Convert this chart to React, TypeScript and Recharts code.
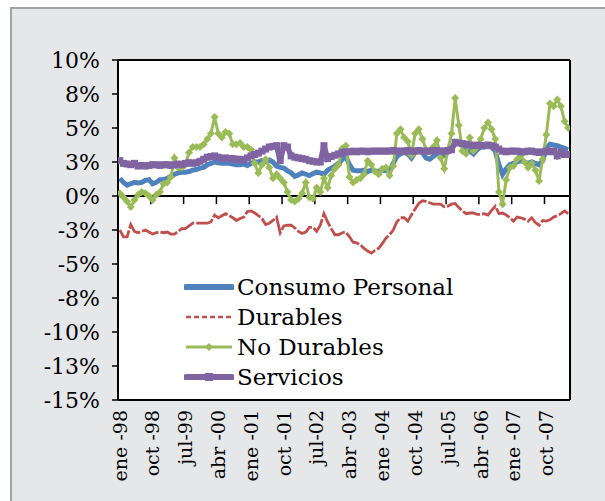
import React from 'react';
import { LineChart, Line, XAxis, YAxis, ReferenceLine, Legend, CartesianGrid } from 'recharts';

const FONT = '"DejaVu Serif", serif';

// monthly, Jan 1998 .. Apr 2008 (124 months)
const MONTHS = ['ene', 'feb', 'mar', 'abr', 'may', 'jun', 'jul', 'ago', 'sep', 'oct', 'nov', 'dic'];
const START_YEAR = 1998;

const X_TICKS = [0, 9, 18, 27, 36, 45, 54, 63, 72, 81, 90, 99, 108, 117];
const X_LABELS = ['ene -98', 'oct -98', 'jul-99', 'abr -00', 'ene -01', 'oct -01', 'jul-02', 'abr -03', 'ene -04', 'oct -04', 'jul-05', 'abr -06', 'ene -07', 'oct -07'];
const Y_TICKS = [-15, -12.5, -10, -7.5, -5, -2.5, 0, 2.5, 5, 7.5, 10];

const CONSUMO = [
  1.3, 1.0, 0.8, 0.9, 1.0, 0.95, 1.0, 1.15, 1.2, 0.9, 1.0, 1.2,
  1.2, 1.3, 1.45, 1.6, 1.7, 1.75, 1.75, 1.8, 1.9, 1.95, 2.05, 2.1,
  2.3, 2.4, 2.5, 2.45, 2.4, 2.4, 2.4, 2.35, 2.3, 2.3, 2.35, 2.25,
  2.4, 2.5, 2.5, 2.6, 2.55, 2.65, 2.5, 2.2, 2.1, 2.05, 1.85, 1.7,
  1.45, 1.55, 1.7, 1.6, 1.5, 1.65, 1.75, 1.7, 1.6, 1.9, 2.05, 2.2,
  2.4, 2.7, 2.9, 2.3, 1.9, 1.85, 1.85, 1.9, 1.8, 1.9, 1.85, 1.8,
  1.9, 1.85, 1.8, 2.4, 2.9, 3.1, 3.2, 3.1, 2.8, 3.2, 3.3, 3.2,
  2.8, 2.7, 2.9, 3.1, 3.2, 3.0, 3.2, 3.5, 4.0, 3.9, 3.8, 3.3,
  3.3, 3.1, 3.4, 3.6, 3.6, 3.7, 3.6, 3.3, 2.3, 1.6, 2.0, 2.3,
  2.4, 2.5, 2.6, 2.5, 2.4, 2.5, 2.4, 2.3, 2.6, 3.5, 3.8, 3.75,
  3.7, 3.6, 3.5, 3.4,
];

const DURABLES = [
  -2.5, -3.0, -3.0, -2.1, -2.6, -2.7, -2.6, -2.5, -2.65, -2.8, -2.7, -2.65,
  -2.7, -2.65, -2.8, -2.8, -2.6, -2.4, -2.4, -2.2, -2.0, -2.0, -2.0, -2.0,
  -2.0, -1.9, -1.4, -1.6, -1.45, -1.3, -1.45, -1.6, -1.8, -1.65, -1.55, -1.15,
  -1.1, -1.25, -1.45, -1.65, -2.1, -2.0, -1.8, -1.55, -2.7, -2.2, -2.15, -2.15,
  -2.35, -2.6, -2.75, -2.65, -2.3, -2.3, -2.6, -2.15, -1.3, -1.9, -2.4, -2.85,
  -2.85, -2.7, -2.65, -3.0, -3.4, -3.45, -3.6, -3.85, -4.05, -4.2, -4.0, -3.85,
  -3.5, -3.1, -2.85, -2.5, -1.9, -1.6, -1.6, -1.85, -1.4, -0.95, -0.55, -0.35,
  -0.4, -0.5, -0.6, -0.6, -0.6, -0.8, -0.75, -0.6, -0.55, -0.85, -1.1, -1.3,
  -1.25, -1.25, -1.35, -1.35, -1.3, -1.4, -1.05, -0.75, -1.3, -1.25, -1.4, -1.6,
  -1.85, -1.55, -1.6, -1.7, -1.85, -1.6, -1.95, -2.15, -1.8, -1.85, -1.75, -1.55,
  -1.45, -1.3, -1.1, -1.3,
];

const NO_DURABLES = [
  0.2, -0.1, -0.4, -0.8, -0.3, 0.1, 0.3, 0.2, 0.0, -0.3, 0.1, 0.3,
  0.9, 1.0, 1.4, 2.8, 2.1, 2.1, 2.3, 3.2, 3.6, 3.6, 3.6, 3.8,
  4.2, 4.6, 5.8, 4.6, 4.3, 4.7, 4.6, 3.8, 3.8, 3.9, 3.6, 3.6,
  3.4, 2.4, 1.7, 2.3, 2.7, 2.1, 1.3, 1.6, 1.3, 1.0, 0.3, -0.3,
  -0.4, -0.2, 0.2, 1.0, -0.1, -0.2, 0.6, 0.3, 1.3, 0.6, 1.5, 2.0,
  2.3, 3.5, 3.7, 1.4, 1.0, 1.2, 1.3, 1.6, 2.6, 2.3, 1.8, 1.6,
  2.0, 2.1, 1.5, 2.2, 4.6, 4.9, 4.3, 4.0, 3.0, 4.6, 4.9, 4.2,
  3.4, 3.3, 3.6, 4.1, 2.8, 2.0, 3.4, 4.6, 7.2, 5.2, 3.3, 3.1,
  4.3, 3.3, 3.6, 4.2, 5.0, 5.4, 4.9, 4.2, 0.3, -0.6, 1.2, 2.1,
  2.2, 2.7, 3.0, 2.5, 2.1, 2.4, 1.9, 1.1, 2.7, 4.5, 6.8, 6.6,
  7.1, 6.6, 5.5, 5.0,
];

const SERVICIOS = [
  2.6, 2.4, 2.35, 2.3, 2.4, 2.2, 2.25, 2.2, 2.25, 2.3, 2.3, 2.25,
  2.3, 2.3, 2.25, 2.3, 2.35, 2.3, 2.4, 2.45, 2.4, 2.45, 2.55, 2.7,
  2.85, 2.9, 2.95, 2.85, 2.75, 2.8, 2.75, 2.75, 2.7, 2.7, 2.65, 2.8,
  2.95, 3.05, 3.15, 3.3, 3.45, 3.6, 3.65, 3.7, 2.6, 3.7, 3.6, 2.95,
  2.85, 2.8, 2.75, 2.7, 2.6, 2.55, 2.5, 2.5, 3.7, 2.75, 2.9, 3.0,
  3.1, 3.2, 3.25, 3.25, 3.3, 3.25, 3.3, 3.3, 3.25, 3.3, 3.3, 3.3,
  3.3, 3.3, 3.3, 3.35, 3.3, 3.3, 3.3, 3.35, 3.3, 3.3, 3.35, 3.3,
  3.3, 3.3, 3.35, 3.35, 3.3, 3.3, 3.35, 3.4, 3.95, 3.9, 3.85, 3.8,
  3.75, 3.7, 3.75, 3.7, 3.7, 3.75, 3.7, 3.6, 3.45, 3.3, 3.25, 3.3,
  3.3, 3.3, 3.25, 3.25, 3.3, 3.3, 3.25, 3.2, 3.25, 3.3, 3.25, 3.3,
  2.95, 3.25, 3.05, 3.05,
];

const COLORS = { consumo: '#4f81bd', durables: '#c0504d', noDurables: '#9bbb59', servicios: '#8064a2' };

const data = CONSUMO.map((v, i) => ({
  i,
  mes: `${MONTHS[i % 12]}-${String((START_YEAR + Math.floor(i / 12)) % 100).padStart(2, '0')}`,
  consumo: v,
  durables: DURABLES[i],
  noDurables: NO_DURABLES[i],
  servicios: SERVICIOS[i],
}));

// excel style rounding of the 2.5% steps (half away from zero)
const fmtPct = (v: number) => `${v < 0 ? '-' : ''}${Math.round(Math.abs(v))}%`;

const Diamond = (props: any) => {
  const { cx, cy, index } = props;
  if (cx == null || cy == null) return <g key={`d-${index}`} />;
  const r = 4;
  return (
    <path key={`d-${index}`} d={`M${cx},${cy - r}L${cx + r},${cy}L${cx},${cy + r}L${cx - r},${cy}Z`} fill={COLORS.noDurables} />
  );
};

const Square = (props: any) => {
  const { cx, cy, index } = props;
  if (cx == null || cy == null) return <g key={`s-${index}`} />;
  return <rect key={`s-${index}`} x={cx - 3.5} y={cy - 3.5} width={7} height={7} fill={COLORS.servicios} />;
};

const XTick = (props: any) => {
  const { x, y, payload } = props;
  const idx = X_TICKS.indexOf(payload.value);
  return (
    <text
      x={x}
      y={y}
      transform={`rotate(-90 ${x} ${y})`}
      textAnchor="end"
      dy="0.36em"
      fontFamily={FONT}
      fontSize={19}
      fill="#000"
    >
      {X_LABELS[idx]}
    </text>
  );
};

const LEGEND_ITEMS = [
  { key: 'consumo', name: 'Consumo Personal' },
  { key: 'durables', name: 'Durables' },
  { key: 'noDurables', name: 'No Durables' },
  { key: 'servicios', name: 'Servicios' },
];

const LegendSample = ({ k }: { k: string }) => (
  <svg width={50} height={20} style={{ display: 'block' }}>
    {k === 'consumo' && <line x1={2} x2={48} y1={10} y2={10} stroke={COLORS.consumo} strokeWidth={6} strokeLinecap="round" />}
    {k === 'durables' && <line x1={2} x2={48} y1={10} y2={10} stroke={COLORS.durables} strokeWidth={2.5} strokeDasharray="5 3" />}
    {k === 'noDurables' && (
      <g>
        <line x1={2} x2={48} y1={10} y2={10} stroke={COLORS.noDurables} strokeWidth={3} />
        <path d="M25,6L29,10L25,14L21,10Z" fill={COLORS.noDurables} />
      </g>
    )}
    {k === 'servicios' && (
      <g>
        <line x1={2} x2={48} y1={10} y2={10} stroke={COLORS.servicios} strokeWidth={6} strokeLinecap="round" />
        <rect x={21} y={6} width={8} height={8} fill={COLORS.servicios} />
      </g>
    )}
  </svg>
);

const LegendBox = () => (
  <div style={{ fontFamily: FONT, fontSize: 23, color: '#000' }}>
    {LEGEND_ITEMS.map((it) => (
      <div key={it.key} style={{ display: 'flex', alignItems: 'center', height: 30 }}>
        <LegendSample k={it.key} />
        <span style={{ marginLeft: 3, whiteSpace: 'nowrap' }}>{it.name}</span>
      </div>
    ))}
  </div>
);

const axisStroke = { stroke: '#000', strokeWidth: 2 };

export default function App() {
  return (
    <div style={{ position: 'absolute', left: 0, top: 0, width: 605, height: 501, overflow: 'hidden', background: '#fff' }}>
      <div
        style={{
          position: 'absolute',
          left: 10,
          top: 7,
          width: 620,
          height: 520,
          background: '#e6e7e9',
          borderLeft: '2px solid #a3a3a3',
          borderTop: '2px solid #a3a3a3',
        }}
      />
      <div style={{ position: 'absolute', left: 0, top: 0 }}>
        <LineChart width={605} height={501} data={data} margin={{ top: 60, right: 35, left: 0, bottom: 6 }}>
          <CartesianGrid fill="#fff" horizontal={false} vertical={false} />
          <XAxis
            dataKey="i"
            type="number"
            domain={[-0.5, 123.5]}
            ticks={X_TICKS}
            interval={0}
            tick={<XTick />}
            tickLine={false}
            tickSize={0}
            tickMargin={10}
            height={95}
            axisLine={axisStroke}
            allowDataOverflow
          />
          <YAxis
            type="number"
            domain={[-15, 10]}
            ticks={Y_TICKS}
            interval={0}
            width={118}
            tickFormatter={fmtPct}
            tick={{ fontFamily: FONT, fontSize: 22, fill: '#000' }}
            tickLine={{ stroke: '#000', strokeWidth: 1.5 }}
            tickSize={6}
            tickMargin={12}
            axisLine={axisStroke}
            allowDataOverflow
          />
          <ReferenceLine y={10} stroke="#000" strokeWidth={2} />
          <ReferenceLine x={123.5} stroke="#000" strokeWidth={2} />
          <ReferenceLine y={0} stroke="#000" strokeWidth={2} />
          {X_TICKS.slice(1).map((t) => (
            <ReferenceLine
              key={`tk-${t}`}
              segment={[{ x: t - 0.5, y: 0 }, { x: t - 0.5, y: -0.6 }]}
              stroke="#000"
              strokeWidth={1.5}
            />
          ))}
          <Line dataKey="consumo" name="Consumo Personal" stroke={COLORS.consumo} strokeWidth={5} dot={false} isAnimationActive={false} />
          <Line dataKey="durables" name="Durables" stroke={COLORS.durables} strokeWidth={2.8} strokeDasharray="18 2" dot={false} isAnimationActive={false} />
          <Line dataKey="noDurables" name="No Durables" stroke={COLORS.noDurables} strokeWidth={3} dot={Diamond} isAnimationActive={false} />
          <Line dataKey="servicios" name="Servicios" stroke={COLORS.servicios} strokeWidth={5.5} dot={Square} isAnimationActive={false} />
          <Legend
            layout="vertical"
            align="center"
            verticalAlign="middle"
            content={<LegendBox />}
            wrapperStyle={{ left: 184, top: 272, width: 300, height: 120 }}
          />
        </LineChart>
      </div>
    </div>
  );
}
